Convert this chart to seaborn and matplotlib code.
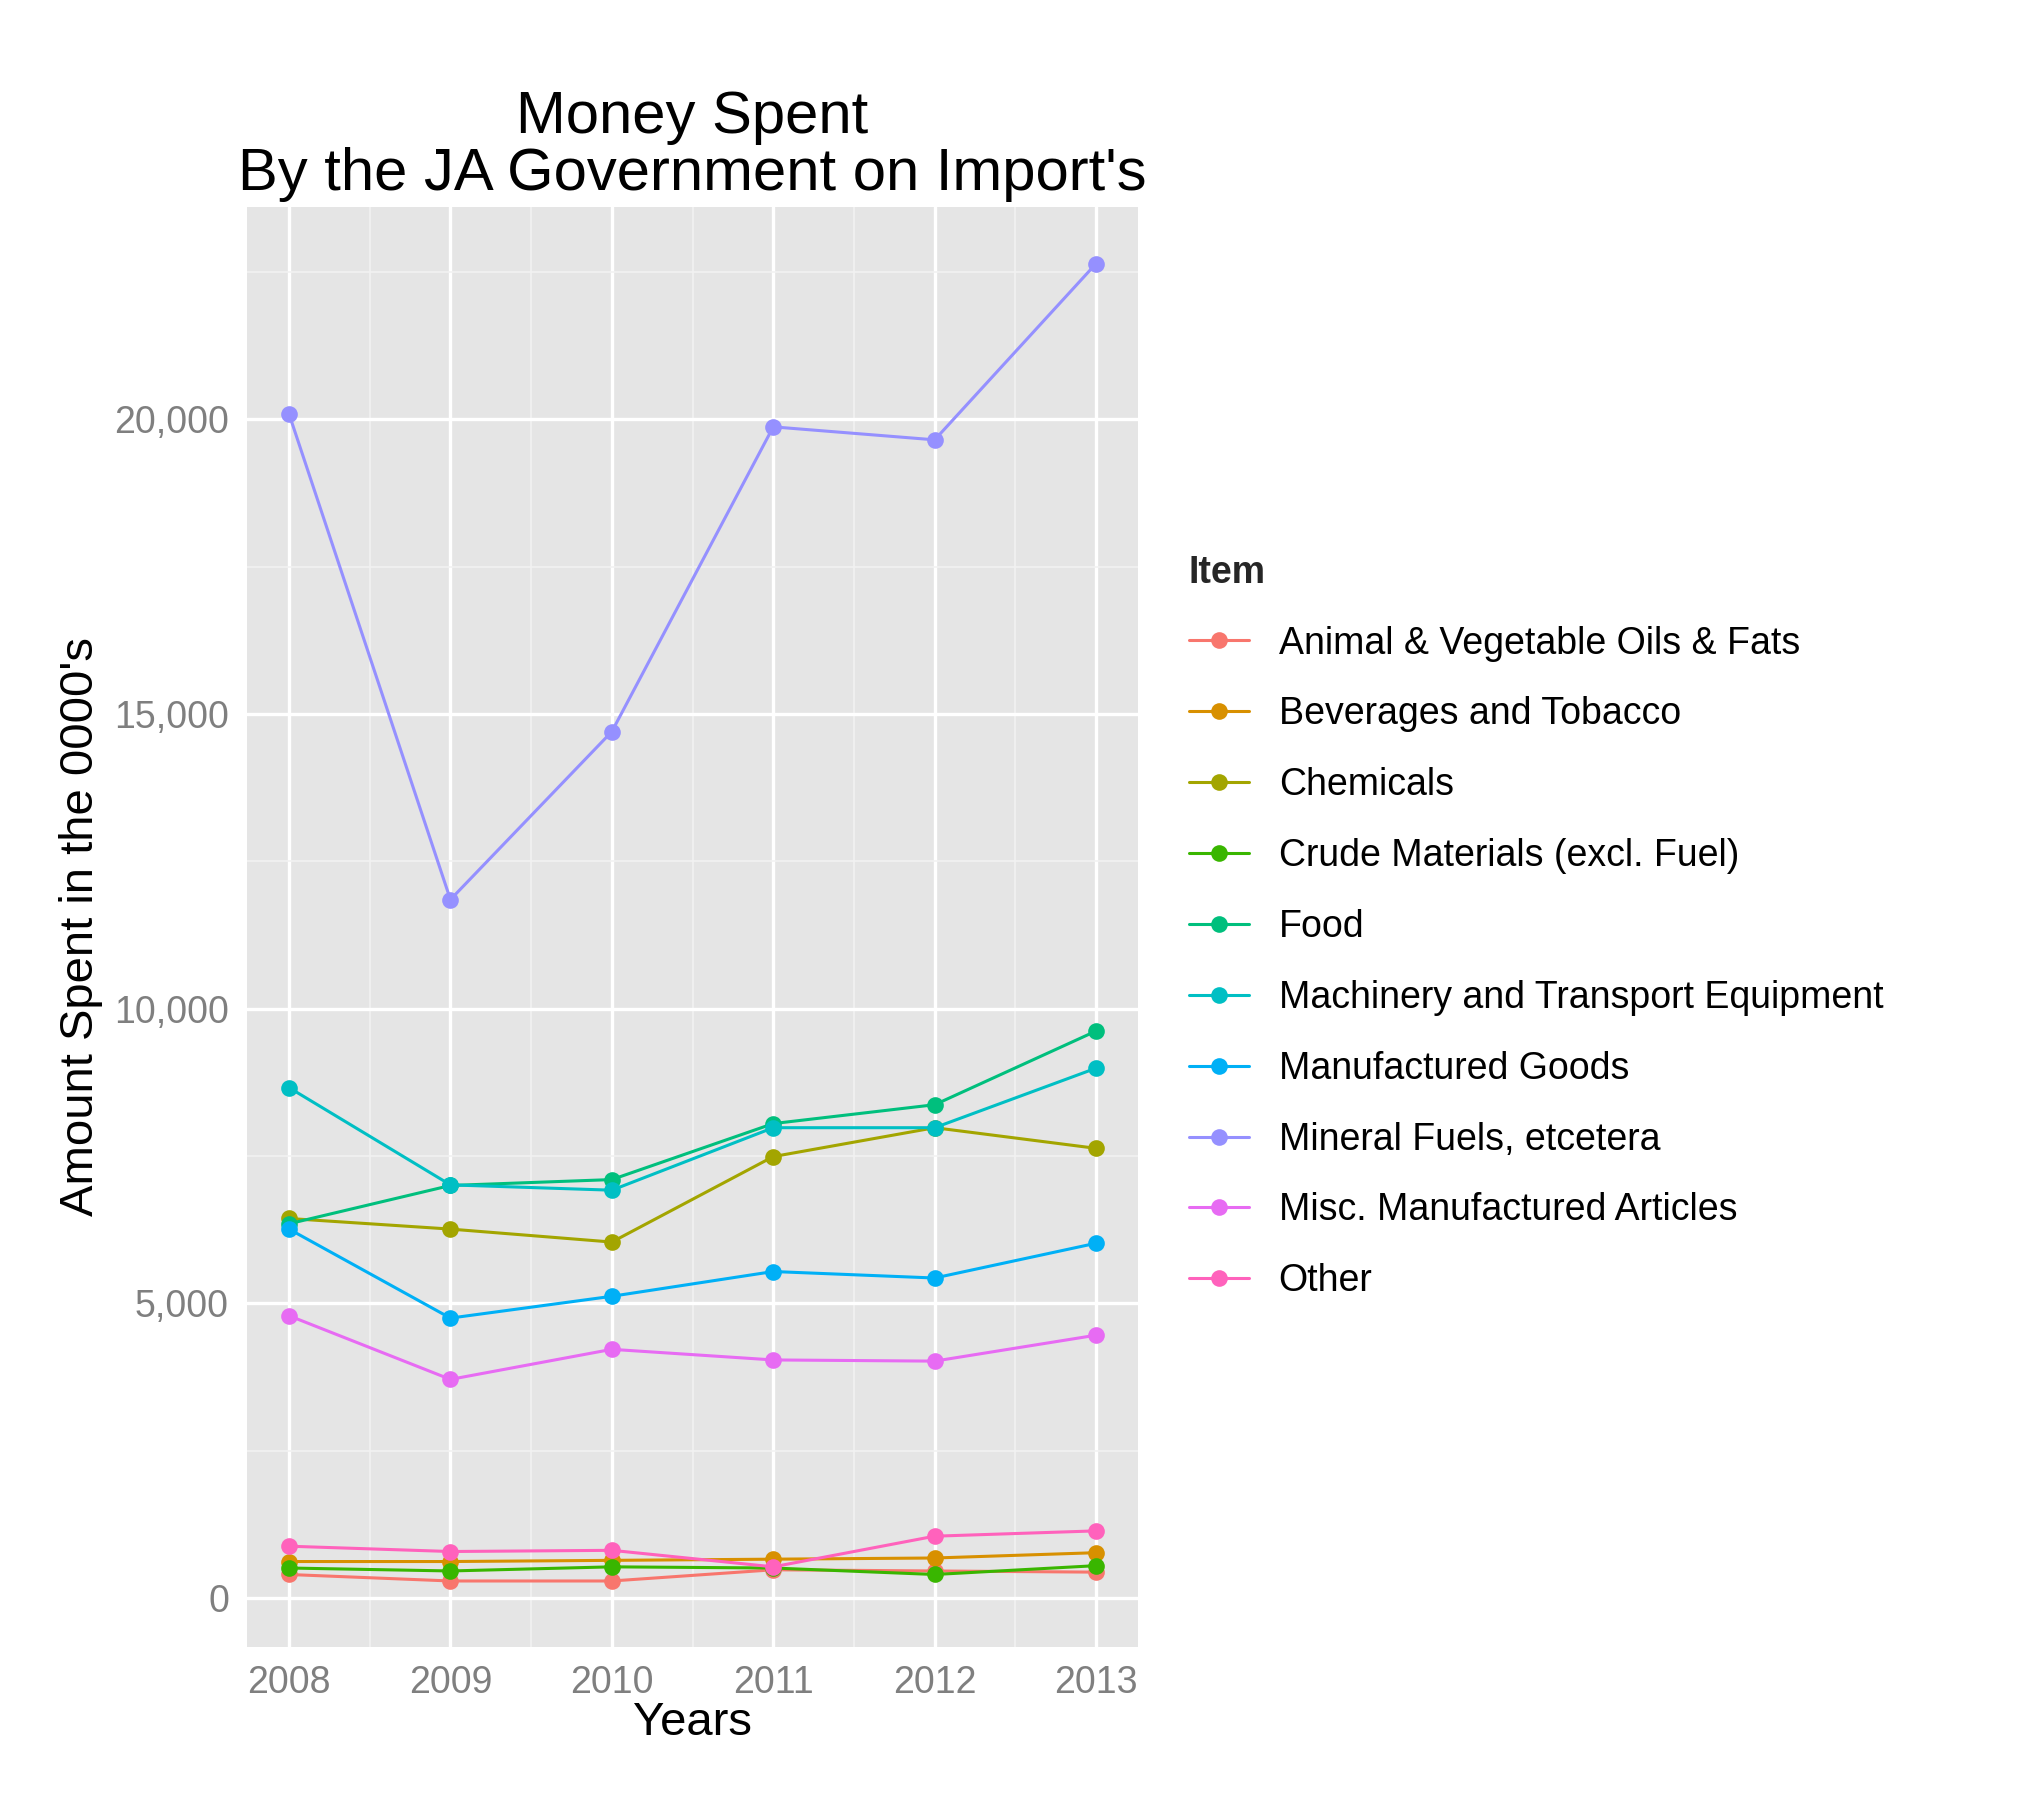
import pandas as pd
import seaborn as sns
import matplotlib.pyplot as plt
import matplotlib.ticker as ticker

years = [2008, 2009, 2010, 2011, 2012, 2013]
items = [
    "Animal & Vegetable Oils & Fats",
    "Beverages and Tobacco",
    "Chemicals",
    "Crude Materials (excl. Fuel)",
    "Food",
    "Machinery and Transport Equipment",
    "Manufactured Goods",
    "Mineral Fuels, etcetera",
    "Misc. Manufactured Articles",
    "Other",
]
animal = [400, 290, 290, 480, 460, 440]
beverages = [620, 620, 640, 660, 680, 770]
chemicals = [6440, 6260, 6040, 7490, 7980, 7630]
crude = [510, 460, 530, 510, 400, 550]
food = [6350, 7000, 7100, 8050, 8370, 9620]
machinery = [8660, 7010, 6920, 7980, 7980, 8990]
manufactured = [6260, 4750, 5120, 5540, 5430, 6020]
mineral = [20090, 11850, 14700, 19870, 19650, 22640]
misc = [4790, 3710, 4220, 4040, 4020, 4460]
other = [880, 790, 810, 530, 1050, 1140]
palette = ["#F8766D", "#D89000", "#A3A500", "#39B600", "#00BF7D",
           "#00BFC4", "#00B0F6", "#9590FF", "#E76BF3", "#FF62BC"]


def main():
    series = [animal, beverages, chemicals, crude, food, machinery,
              manufactured, mineral, misc, other]
    rows = []
    for name, vals in zip(items, series):
        for y, v in zip(years, vals):
            rows.append({"Item": name, "Years": y, "Amount": v})
    df = pd.DataFrame(rows)

    sns.set_theme(style="darkgrid", rc={
        "axes.facecolor": "#E5E5E5", "grid.color": "white"})
    plt.rcParams["font.family"] = ["Liberation Sans", "DejaVu Sans"]

    fig = plt.figure(figsize=(10.125, 9), dpi=200)
    ax = fig.add_axes([0.122, 0.085, 0.44, 0.80])
    sns.lineplot(df, x="Years", y="Amount", hue="Item", palette=palette,
                 marker="o", markersize=6, markeredgewidth=0, linewidth=1.1,
                 ax=ax)
    ax.set_xlim(2007.74, 2013.26)
    ax.set_ylim(-830, 23600)
    ax.xaxis.set_major_locator(ticker.MultipleLocator(1))
    ax.xaxis.set_minor_locator(ticker.MultipleLocator(0.5))
    ax.yaxis.set_major_locator(ticker.MultipleLocator(5000))
    ax.yaxis.set_minor_locator(ticker.MultipleLocator(2500))
    ax.yaxis.set_major_formatter(ticker.StrMethodFormatter("{x:,.0f}"))
    ax.grid(which="major", color="white", linewidth=1.2)
    ax.grid(which="minor", color="#F2F2F2", linewidth=0.6)
    ax.tick_params(axis="both", labelsize=13.5, colors="#7F7F7F",
                   length=3, direction="out", width=0.8)
    ax.tick_params(which="minor", length=0)
    for s in ax.spines.values():
        s.set_visible(False)
    ax.set_xlabel("Years", fontsize=17, labelpad=0, color="black")
    ax.set_ylabel("Amount Spent in the 0000's", fontsize=17, color="black")
    ax.set_title("Money Spent\nBy the JA Government on Import's",
                 fontsize=21.5, linespacing=1.05, pad=6, color="black")
    leg = ax.legend(title="Item", loc="center left",
                    bbox_to_anchor=(1.04, 0.5), fontsize=13.5,
                    title_fontproperties={"weight": "bold", "size": 13.5},
                    frameon=False, handlelength=1.6, labelspacing=0.93,
                    borderaxespad=0)
    leg._legend_box.align = "left"
    for t in leg.get_texts():
        t.set_color("black")
    fig.savefig("out.png", dpi=200)


if __name__ == "__main__":
    main()
